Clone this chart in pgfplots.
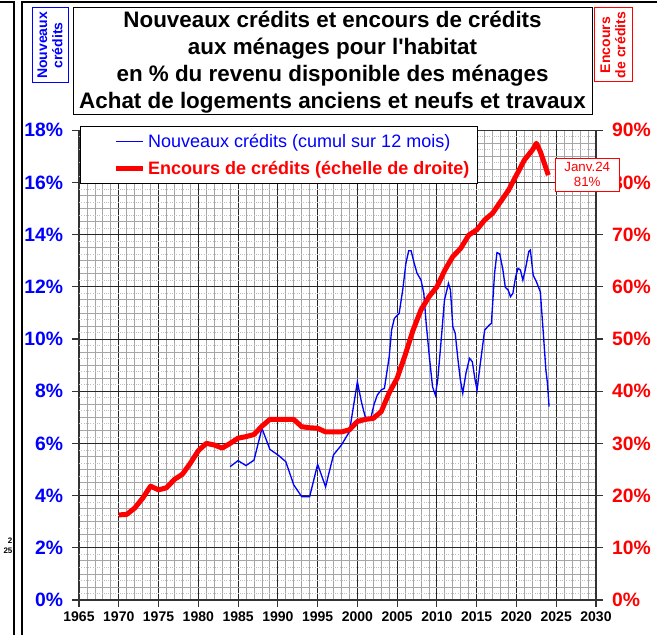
\documentclass[border=0pt]{standalone}
\usepackage{pgfplots}
\pgfplotsset{compat=1.18}
\usepackage{fontspec}
\setmainfont{Liberation Sans}
\begin{document}
\begin{tikzpicture}
\path[use as bounding box] (0pt,0pt) rectangle (492.75pt,-476.25pt);
\fill[white] (0pt,0pt) rectangle (492.75pt,-476.25pt);
% frame and neighbour artefacts
\draw[line width=1.5pt] (16.5pt,-476.25pt) -- (16.5pt,-1.5pt) -- (492.75pt,-1.5pt);
\draw[line width=1.5pt] (0pt,-1.5pt) -- (10.5pt,-1.5pt) -- (10.5pt,-476.25pt);
\node[anchor=east,font=\bfseries\fontsize{6}{6.5}\selectfont,inner sep=0pt] at (9.5pt,-405.5pt) {2};
\node[anchor=east,font=\bfseries\fontsize{6}{6.5}\selectfont,inner sep=0pt] at (9.5pt,-413pt) {25};
% title box
\draw[black, line width=0.75pt, fill=white] (54.75pt,-6pt) rectangle (444pt,-86.25pt);
\node[align=center, font=\bfseries\fontsize{16.8}{20.25}\selectfont, inner sep=0pt] at (249.4pt,-46.6pt)
 {Nouveaux crédits et encours de crédits\\aux ménages pour l\textquotesingle habitat\\en \% du revenu disponible des ménages\\Achat de logements anciens et neufs et travaux};
% side boxes
\draw[blue, line width=0.75pt] (24pt,-6pt) rectangle (51pt,-62.25pt);
\node[rotate=90, align=center, text=blue, font=\bfseries\fontsize{10.5}{11.5}\selectfont, inner sep=0pt] at (37.5pt,-34.1pt) {Nouveaux\\crédits};
\draw[red, line width=0.75pt] (445.5pt,-6pt) rectangle (474pt,-61.5pt);
\node[rotate=90, align=center, text=red, font=\bfseries\fontsize{10.5}{11.5}\selectfont, inner sep=0pt] at (459.75pt,-33.75pt) {Encours\\de crédits};

\begin{axis}[
  at={(59.25pt,-450pt)}, anchor=south west, scale only axis,
  width=387.75pt, height=352.35pt,
  xmin=1965, xmax=2030, ymin=0, ymax=18,
  xtick={1965,1970,...,2030}, minor x tick num=4,
  ytick={0,2,...,18}, minor y tick num=3,
  xtick pos=bottom, ytick pos=left,
  tick align=outside,
  major tick length=5pt, minor tick length=0pt,
  grid=both,
  major grid style={black!85, line width=0.7pt},
  minor grid style={gray!70, line width=0.6pt},
  extra y ticks={0.25,0.75,...,17.75},
  extra y tick labels={},
  extra y tick style={grid=major, major grid style={gray!50, densely dotted, line width=0.5pt}, major tick length=0pt},
  axis line style={black!80, line width=0.9pt},
  tick style={black!80, line width=0.8pt},
  /pgf/number format/assume math mode=true,
  yticklabel={\pgfmathprintnumber{\tick}\%},
  yticklabel style={text=blue, font=\bfseries\fontsize{14.5}{16}\selectfont, xshift=-3.5pt},
  xticklabel style={text=black, font=\bfseries\fontsize{10.5}{12}\selectfont, /pgf/number format/1000 sep={}},
]
\addplot[blue, line width=1pt] coordinates {
(1984,5.11) (1985,5.34) (1986,5.15) (1987,5.36) (1988,6.58) (1989,5.77) (1990,5.56) (1991,5.30)
(1992,4.41) (1993,3.96) (1994,3.96) (1995,5.20) (1996,4.34) (1997,5.56) (1998,5.94) (1999,6.45)
(2000,8.36) (2000.5,7.6) (2001,7.0) (2001.7,6.98) (2002.1,7.5) (2002.5,7.85) (2003,8.05) (2003.4,8.11)
(2004,9.32) (2004.3,10.34) (2004.65,10.79) (2005.25,10.98) (2005.7,11.88) (2006.1,12.90) (2006.45,13.38)
(2006.75,13.38) (2007.15,12.90) (2007.5,12.52) (2008.0,12.26) (2008.35,11.75) (2008.65,10.60) (2009.05,9.32)
(2009.45,8.17) (2009.8,7.85) (2010.1,8.43) (2010.5,9.83) (2010.95,11.49) (2011.45,12.13) (2011.7,11.88)
(2012.0,10.47) (2012.3,10.22) (2012.65,9.20) (2012.95,8.43) (2013.25,7.92) (2013.65,8.69) (2014.1,9.26)
(2014.45,9.13) (2014.8,8.43) (2015.05,8.05) (2015.35,8.81) (2016.0,10.34) (2016.6,10.54) (2016.85,10.60)
(2017.25,12.52) (2017.55,13.31) (2017.9,13.26) (2018.3,12.64) (2018.6,11.98) (2018.95,11.88) (2019.25,11.62)
(2019.55,11.75) (2019.9,12.39) (2020.2,12.71) (2020.5,12.64) (2020.8,12.26) (2021.1,12.64) (2021.55,13.35)
(2021.75,13.41) (2022.1,12.45) (2022.5,12.2) (2023.0,11.81) (2023.35,10.34) (2023.7,8.81) (2023.9,8.30) (2024.1,7.41)
};
\end{axis}

\begin{axis}[
  at={(59.25pt,-450pt)}, anchor=south west, scale only axis,
  width=387.75pt, height=352.35pt,
  xmin=1965, xmax=2030, ymin=0, ymax=90,
  axis x line=none, axis y line*=right,
  ytick={0,10,...,90},
  tick align=outside, major tick length=5pt,
  axis line style={black!80, line width=0.9pt},
  tick style={black!80, line width=0.8pt},
  clip=false,
  /pgf/number format/assume math mode=true,
  yticklabel={\pgfmathprintnumber{\tick}\%},
  yticklabel style={text=red, font=\bfseries\fontsize{14.5}{16}\selectfont, xshift=3.5pt},
  legend style={at={(0.002,1.009)}, anchor=north west, draw=black, line width=0.75pt, fill=white,
     font=\fontsize{13.5}{16}\selectfont, inner xsep=4pt, inner ysep=3.5pt, row sep=5pt},
  legend cell align=left,
  legend image code/.code={\path (0pt,0pt); \draw[#1] (21pt,0pt) -- (41pt,0pt);},
]
\addlegendimage{blue, line width=1pt}
\addlegendentry{\textcolor{blue}{Nouveaux crédits (cumul sur 12 mois)}}
\addplot[red, line width=3.75pt, line join=round] coordinates {
(1970,16.3) (1971,16.4) (1972,17.6) (1973,19.5) (1974,21.8) (1975,21.1) (1976,21.5) (1977,23.1)
(1978,24.1) (1979,26.2) (1980,28.6) (1981,30.0) (1982,29.7) (1983,29.1) (1984,30.0) (1985,31.0)
(1986,31.3) (1987,31.7) (1988,33.3) (1989,34.6) (1990,34.6) (1991,34.6) (1992,34.6) (1993,33.2)
(1994,33.0) (1995,32.9) (1996,32.2) (1997,32.2) (1998,32.2) (1999,32.6) (2000,34.2) (2001,34.6)
(2002,34.8) (2003,36.1) (2004,39.7) (2005,42.5) (2006,46.9) (2007,51.7) (2008,55.6) (2009,58.1)
(2010,60.0) (2011,63.2) (2012,65.8) (2013,67.4) (2014,69.9) (2015,70.9) (2016,72.8) (2017,74.1)
(2018,76.3) (2019,78.5) (2020,81.4) (2021,84.3) (2022,86.2) (2022.5,87.5) (2023,85.9) (2023.5,83.7) (2024,81.4)
};
\addlegendentry{\textcolor{red}{\bfseries Encours de crédits (échelle de droite)}}
\coordinate (lab) at (axis cs:2028.9,81.5);
\end{axis}
\node[draw=red, fill=white, text=red, align=center, line width=0.75pt, inner sep=1.5pt,
  minimum width=48pt, minimum height=24.75pt, font=\fontsize{10}{11.5}\selectfont] at (lab) {Janv.24\\81\%};
\end{tikzpicture}
\end{document}
